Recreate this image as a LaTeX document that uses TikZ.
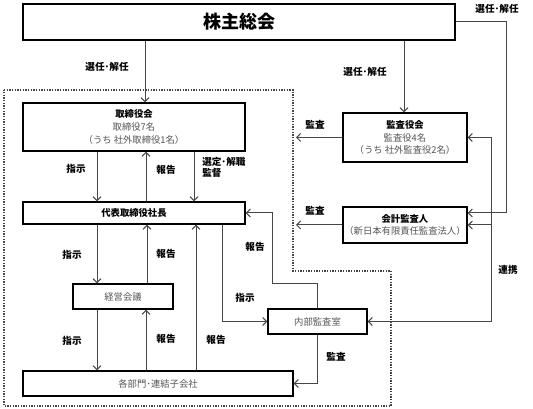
\documentclass[tikz,border=0pt]{standalone}
\usepackage{fontspec}
\setmainfont{Noto Sans CJK JP}
\usepackage{xcolor}
\usepackage{tikz}
\usetikzlibrary{arrows.meta}

\definecolor{linegray}{RGB}{70,70,70}
\definecolor{txtgray}{RGB}{85,85,85}

\tikzset{
  box/.style={draw=black, line width=0.9pt, fill=white, inner sep=0pt, align=center, text=black},
  conn/.style={draw=linegray, line width=0.75pt},
  tip/.style={conn, -{Straight Barb[length=3pt,width=6pt]}},
  lbl/.style={inner sep=0.75pt, font=\fontsize{7.2}{8.5}\selectfont\bfseries, align=left},
  boxfont/.style={font=\fontsize{7}{9.5}\selectfont}
}

\begin{document}
\begin{tikzpicture}[x=0.75pt,y=0.75pt,yscale=-1,xscale=1]
\useasboundingbox (0,0) rectangle (533,409);

%Dotted frame of the company
\draw [linegray, line width=0.8pt, dash pattern=on 1pt off 1pt] (4,90) -- (293,90) -- (293,271) -- (391,271) -- (391,406) -- (4,406) -- cycle;

% Boxes
\node [box, minimum width=324pt, minimum height=27pt, font=\fontsize{13.5}{15}\selectfont\bfseries] (meeting) at (239,22) {株主総会};
\node [box, boxfont, minimum width=166.5pt, minimum height=36pt] (board) at (134,127)
{\textbf{取締役会}\\\textcolor{txtgray}{取締役7名}\\\textcolor{txtgray}{（うち 社外取締役1名）}};
\node [box, boxfont, minimum width=166.5pt, minimum height=16.5pt] (ceo) at (134,213) {\textbf{代表取締役社長}};
\node [box, boxfont, minimum width=75pt, minimum height=18.75pt] (mgmt) at (123,296.5) {\textcolor{txtgray}{経営会議}};
\node [box, boxfont, minimum width=202.5pt, minimum height=18.75pt] (depts) at (158,383.5) {\textcolor{txtgray}{各部門･連結子会社}};
\node [box, boxfont, minimum width=93pt, minimum height=36.75pt] (auditors) at (405,137.5)
{\textbf{監査役会}\\\textcolor{txtgray}{監査役4名}\\\textcolor{txtgray}{（うち 社外監査役2名）}};
\node [box, boxfont, minimum width=93pt, minimum height=27pt] (accnt) at (405,225)
{\textbf{会計監査人}\\\textcolor{txtgray}{（新日本有限責任監査法人）}};
\node [box, boxfont, minimum width=74.25pt, minimum height=18.75pt] (internal) at (317.5,321.5) {\textcolor{txtgray}{内部監査室}};

%Straight Lines from the meeting
\draw [tip] (meeting.south -| 145,0) -- (board.north -| 145,0);
\draw [tip] (meeting.south -| 404,0) -- (auditors.north -| 404,0);
\draw [tip] (meeting.east) -| (506,213) -- (accnt.east |- 0,213);

%Straight Lines board / ceo
\draw [tip] (board.south -| 97,0) -- (ceo.north -| 97,0);
\draw [tip] (ceo.north -| 146,0) -- (board.south -| 146,0);
\draw [tip] (board.south -| 194,0) -- (ceo.north -| 194,0);

%Straight Lines ceo / mgmt / depts
\draw [tip] (ceo.south -| 97,0) -- (mgmt.north -| 97,0);
\draw [tip] (mgmt.north -| 147,0) -- (ceo.south -| 147,0);
\draw [tip] (mgmt.south -| 97,0) -- (depts.north -| 97,0);
\draw [tip] (depts.north -| 146,0) -- (mgmt.south -| 146,0);
\draw [tip] (depts.north -| 196,0) -- (ceo.south -| 196,0);

%Straight Lines internal audit
\draw [tip] (ceo.south -| 222,0) |- (internal.west);
\draw [tip] (internal.north) -- (internal.north |- 0,284) -| (272,213) -- (ceo.east);
\draw [tip] (internal.south) |- (depts.east);

%Straight Lines audit
\draw [tip] (auditors.west) -- (auditors.west -| 296,0);
\draw [tip] (accnt.west) -- (accnt.west -| 296,0);

%Straight Lines cooperation
\coordinate (coop) at (491,137.5);
\draw [tip] (coop) -- (auditors.east);
\draw [tip] (coop) |- (accnt.east);
\draw [tip] (coop) |- (internal.east);

% Text Node
\node [lbl] (l1) at (107,67) {選任･解任};
\node [lbl] (l2) at (365,72) {選任･解任};
\node [lbl] (l3) at (497,9) {選任･解任};
\node [lbl] (l4) at (76,169) {指示};
\node [lbl] (l5) at (166,170) {報告};
\node [lbl, anchor=north west] (l6) at (201,156) {選定･解職\\監督};
\node [lbl] (l7) at (315,125) {監査};
\node [lbl] (l8) at (315,211) {監査};
\node [lbl] (l9) at (255,247) {報告};
\node [lbl] (l10) at (72,255) {指示};
\node [lbl] (l11) at (166,254) {報告};
\node [lbl] (l12) at (245,298) {指示};
\node [lbl] (l13) at (72,341) {指示};
\node [lbl] (l14) at (166,339) {報告};
\node [lbl] (l15) at (216,340) {報告};
\node [lbl] (l16) at (336,357) {監査};
\node [lbl] (l17) at (508,270) {連携};

\end{tikzpicture}
\end{document}
